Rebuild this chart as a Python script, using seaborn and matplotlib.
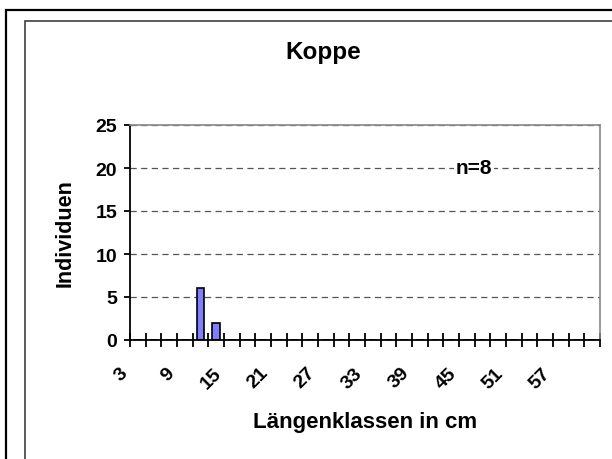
import matplotlib
matplotlib.use("Agg")
import matplotlib.pyplot as plt
import matplotlib.transforms as mtransforms
from matplotlib.patches import Rectangle
import seaborn as sns
import pandas as pd

# ---- data ----
categories = [str(v) for v in range(3, 62, 2)]          # 3,5,...,61 (Längenklassen)
counts = [0] * len(categories)
counts[categories.index("11")] = 6
counts[categories.index("13")] = 2
tick_labels = [str(v) for v in range(3, 58, 6)]          # 3,9,...,57
title = "Koppe"
xlabel = "Längenklassen in cm"
ylabel = "Individuen"
note = "n=8"

df = pd.DataFrame({"Klasse": categories, "Individuen": counts})

sns.set_theme(style="white")
plt.rcParams["font.family"] = ["Liberation Sans", "DejaVu Sans"]
plt.rcParams["font.weight"] = "bold"
for k in ["text.color", "axes.labelcolor", "xtick.color", "ytick.color"]:
    plt.rcParams[k] = "black"

W, H, DPI = 612, 460, 100
fig = plt.figure(figsize=(W / DPI, H / DPI), dpi=DPI)
fig.patch.set_facecolor("white")

# plot area in pixels: left 130, right 600, top 126, bottom 341
ax = fig.add_axes([130 / W, (H - 341) / H, 470 / W, 215 / H])

sns.barplot(data=df, x="Klasse", y="Individuen", order=categories,
            color="#8080FF", saturation=1, edgecolor="black", linewidth=1.2,
            width=0.5, ax=ax)

ax.set_xlim(-0.5, len(categories) - 0.5)
ax.set_ylim(0, 25)
ax.set_yticks(range(0, 26, 5))

# gridlines
ax.set_axisbelow(True)
ax.yaxis.grid(True, color="#555555", linestyle=(0, (5, 3.5)), linewidth=0.9)
ax.xaxis.grid(False)

# spines
for s in ["top", "right"]:
    ax.spines[s].set_color("#888888")
    ax.spines[s].set_linewidth(1.2)
for s in ["left", "bottom"]:
    ax.spines[s].set_color("black")
    ax.spines[s].set_linewidth(1.3)

# x ticks: minor tick marks between categories, labels every 3rd category
ax.set_xticks([categories.index(t) for t in tick_labels])
ax.set_xticklabels(tick_labels)
ax.set_xticks([i - 0.5 for i in range(len(categories) + 1)], minor=True)
ax.tick_params(axis="x", which="major", length=0, pad=21.6, labelsize=14,
               labelcolor="black")
ax.tick_params(axis="x", which="minor", direction="inout", length=9.5,
               width=1.3, color="black", bottom=True)
offset = mtransforms.ScaledTranslation(-0.13, 0, fig.dpi_scale_trans)
for lab in ax.get_xticklabels():
    lab.set_rotation(45)
    lab.set_ha("right")
    lab.set_va("center")
    lab.set_rotation_mode("anchor")
    lab.set_fontweight("bold")
    lab.set_transform(lab.get_transform() + offset)

ax.tick_params(axis="y", which="major", direction="out", length=4.3,
               width=1.3, color="black", left=True, pad=5, labelsize=14,
               labelcolor="black")
for lab in ax.get_yticklabels():
    lab.set_fontweight("bold")

ax.set_xlabel(xlabel, fontsize=16, fontweight="bold", color="black")
ax.set_ylabel(ylabel, fontsize=15.5, fontweight="bold", color="black")
ax.xaxis.set_label_coords(0.5, -(423 - 341) / 215)
ax.xaxis.label.set_va("center")
ax.yaxis.set_label_coords((65 - 130) / 470, 0.5)
ax.yaxis.label.set_va("center")

fig.text(323 / W, 1 - 52 / H, title, fontsize=17.5, fontweight="bold",
         ha="center", va="center", color="black")

ax.text(0.732, 20, note, transform=ax.get_yaxis_transform(),
        ha="center", va="center", fontsize=15, fontweight="bold",
        color="black",
        bbox=dict(facecolor="white", edgecolor="none", pad=1.5))

# chart frames (extend beyond the right and bottom edges)
fig.patches.append(Rectangle((6 / W, -0.2), 1.0, 1.2 - 11 / H,
                             transform=fig.transFigure, fill=False,
                             edgecolor="black", linewidth=1.6))
fig.patches.append(Rectangle((25 / W, -0.2), 1.0, 1.2 - 22 / H,
                             transform=fig.transFigure, fill=False,
                             edgecolor="#404040", linewidth=1.2))

fig.savefig("out.png", dpi=DPI, facecolor="white")
